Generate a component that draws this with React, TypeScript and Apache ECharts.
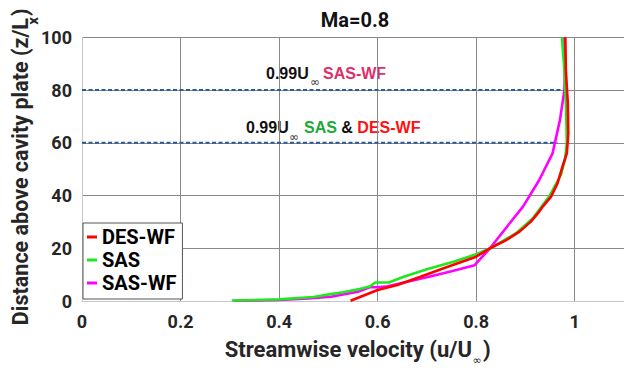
import React, { useEffect, useRef } from "react";
import * as echarts from "echarts";

// Streamwise velocity profiles u/U∞ against height z/Lx above the cavity plate
const desWfU = [0.545, 0.6, 0.64, 0.687, 0.734, 0.8, 0.828, 0.86, 0.888, 0.911, 0.928, 0.935, 0.952, 0.965, 0.975, 0.984, 0.987, 0.986, 0.982, 0.981];
const desWfZ = [0.1, 4.2, 6.1, 9.2, 12.4, 16.8, 20.0, 23.0, 26.3, 30.1, 33.9, 35.8, 39.6, 44.6, 50.9, 56.0, 63.6, 75.0, 87.5, 100];

const sasU = [0.304, 0.4, 0.47, 0.505, 0.53, 0.56, 0.585, 0.595, 0.623, 0.653, 0.7, 0.754, 0.8, 0.828, 0.881, 0.915, 0.948, 0.972, 0.98, 0.984, 0.982, 0.979, 0.974];
const sasZ = [0.2, 0.6, 1.5, 2.6, 3.3, 4.4, 5.6, 7.0, 7.0, 9.2, 12.0, 14.9, 17.7, 20.0, 25.7, 31.4, 39.6, 47.8, 53.5, 59.8, 75.0, 87.5, 100];

const sasWfU = [0.308, 0.4, 0.46, 0.505, 0.56, 0.585, 0.6, 0.62, 0.7, 0.75, 0.797, 0.828, 0.868, 0.895, 0.928, 0.955, 0.97, 0.979, 0.98, 0.979];
const sasWfZ = [0.1, 0.4, 1.0, 1.6, 3.5, 5.3, 5.2, 5.6, 9.0, 11.3, 13.6, 20.0, 29.5, 35.8, 45.9, 56.0, 68.6, 79.8, 87.5, 100];

// Boundary-layer edge (0.99 U∞) heights and where each dashed marker stops
const edgeHeights = [80, 60];
const edgeEnds = [0.982, 0.965];

const seriesNames = ["DES-WF", "SAS", "SAS-WF"];
const xTicks = { min: 0, max: 1.1, step: 0.2 };
const yTicks = { min: 0, max: 100, step: 20 };

const zip = (u: number[], z: number[]) => u.map((v, i) => [v, z[i]]);

const BOLD = "Roboto";
const ARIAL = "Liberation Sans";
const INK = "#262626";

export default function App() {
  const ref = useRef<HTMLDivElement>(null);

  useEffect(() => {
    if (!ref.current) return;
    const chart = echarts.init(ref.current, undefined, { renderer: "svg" });

    const edgeSeries = edgeHeights.map((h, i) => ({
      name: "edge" + h,
      type: "line",
      silent: true,
      showSymbol: false,
      data: [
        [0, h],
        [edgeEnds[i], h],
      ],
      lineStyle: { color: "#2b5a9a", width: 2, type: [4, 2.5] },
      z: 1,
    }));

    const profile = (name: string, u: number[], z: number[], color: string, zi: number) => ({
      name,
      type: "line",
      showSymbol: false,
      symbol: "none",
      data: zip(u, z),
      lineStyle: { color, width: 2.6 },
      itemStyle: { color },
      z: zi,
    });

    const txt = (
      x: number,
      y: number,
      text: string,
      size: number,
      align: string,
      fill = INK,
      family = BOLD,
      weight = "bold",
      lineHeight?: number
    ) => ({
      type: "text",
      x,
      y,
      style: { text, align, verticalAlign: "middle", fontSize: size, fontWeight: weight, fontFamily: family, fill, lineHeight },
    });

    chart.setOption({
      animation: false,
      grid: { left: 82, top: 37.3, width: 546.7, height: 263.7, containLabel: false },
      xAxis: {
        type: "value",
        min: xTicks.min,
        max: xTicks.max,
        interval: xTicks.step,
        axisLine: { show: true, lineStyle: { color: "#c8c8c8", width: 1 } },
        axisTick: { show: false },
        axisLabel: { fontSize: 18, fontWeight: "bold", fontFamily: BOLD, color: INK, margin: 11, showMaxLabel: false },
        splitLine: { show: true, showMinLine: false, lineStyle: { color: "#888", width: 1 } },
      },
      yAxis: {
        type: "value",
        min: yTicks.min,
        max: yTicks.max,
        interval: yTicks.step,
        axisLine: { show: true, lineStyle: { color: "#c8c8c8", width: 1 } },
        axisTick: { show: false },
        axisLabel: { fontSize: 18, fontWeight: "bold", fontFamily: BOLD, color: INK, margin: 10 },
        splitLine: { show: true, showMinLine: false, lineStyle: { color: "#888", width: 1 } },
      },
      legend: {
        data: seriesNames,
        orient: "vertical",
        left: 83,
        top: 223,
        icon: "rect",
        itemWidth: 10,
        itemHeight: 3,
        itemGap: 3,
        padding: [4, 6, 6, 4],
        borderColor: "#555",
        borderWidth: 1,
        backgroundColor: "#fff",
        textStyle: { fontSize: 20, fontWeight: "bold", fontFamily: BOLD, color: "#000", lineHeight: 20 },
        selectedMode: false,
      },
      series: [
        ...edgeSeries,
        profile("SAS-WF", sasWfU, sasWfZ, "#ff00ff", 2),
        profile("SAS", sasU, sasZ, "#1ee81e", 3),
        profile("DES-WF", desWfU, desWfZ, "#ff0000", 4),
      ],
      graphic: [
        txt(355, 20, "Ma=0.8", 20, "center", "#111"),
        // x-axis name with subscript ∞
        txt(472, 349, "Streamwise velocity (u/U", 22, "right", INK, BOLD, "bold", 17),
        txt(477, 360, "∞", 11, "center", INK, "DejaVu Sans", "normal", 9),
        txt(483, 349, ")", 22, "left", INK, BOLD, "bold", 17),
        // y-axis name, rotated, with subscript x
        {
          type: "group",
          x: 20,
          y: 170,
          rotation: Math.PI / 2,
          children: [
            txt(152, 0, "Distance above cavity plate (z/L", 21.5, "right"),
            txt(149, 13, "x", 15, "center"),
            txt(154, 0, ")", 21.5, "left"),
          ],
        },
        // 0.99 U∞ annotations
        txt(266, 73, "0.99U", 16, "left", "#111", ARIAL),
        txt(315, 82, "∞", 12, "center", "#333", "DejaVu Sans", "normal"),
        txt(323, 73, "SAS-WF", 16, "left", "#dc3068", ARIAL),
        txt(246, 127, "0.99U", 16, "left", "#111", ARIAL),
        txt(294, 137, "∞", 12, "center", "#333", "DejaVu Sans", "normal"),
        {
          type: "text",
          x: 304,
          y: 127,
          style: {
            text: "{g|SAS} {k|&} {r|DES-WF}",
            align: "left",
            verticalAlign: "middle",
            fontSize: 16,
            fontWeight: "bold",
            fontFamily: ARIAL,
            rich: {
              g: { fontSize: 16, fontWeight: "bold", fontFamily: ARIAL, fill: "#20a83a", color: "#20a83a" },
              k: { fontSize: 16, fontWeight: "bold", fontFamily: ARIAL, fill: "#111", color: "#111" },
              r: { fontSize: 16, fontWeight: "bold", fontFamily: ARIAL, fill: "#ff1010", color: "#ff1010" },
            },
          },
        },
      ],
    });

    return () => chart.dispose();
  }, []);

  return (
    <div
      ref={ref}
      style={{ position: "absolute", left: 0, top: 0, width: 624, height: 368, overflow: "hidden", background: "#fff" }}
    />
  );
}
